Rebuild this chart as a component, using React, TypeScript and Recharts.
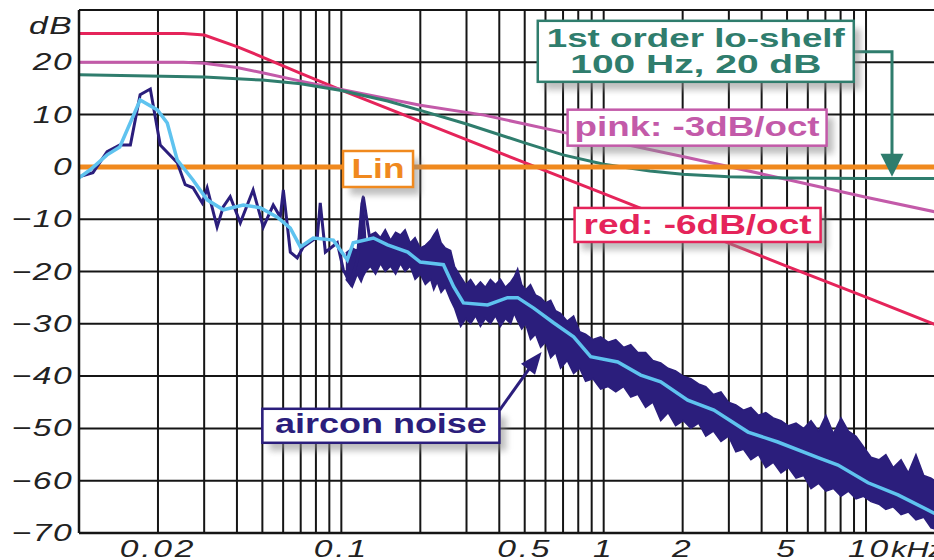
import React from "react";
import {
  ComposedChart,
  Line,
  Area,
  XAxis,
  YAxis,
  CartesianGrid,
  ReferenceDot,
} from "recharts";

// axis ticks and grid (kHz / dB)
const freqTicks = [0.02, 0.1, 0.5, 1, 2, 5, 10];
const gridFreqs = [
  0.02, 0.03, 0.04, 0.05, 0.06, 0.07, 0.08, 0.09, 0.1, 0.2, 0.3, 0.4, 0.5,
  0.6, 0.7, 0.8, 0.9, 1, 2, 3, 4, 5, 6, 7, 8, 9, 10,
];
const dbTicks = [-70, -60, -50, -40, -30, -20, -10, 0, 10, 20, 27];
const dbGrid = [-60, -50, -40, -30, -20, -10, 0, 10, 20, 30];

// weighting curves
const redFreq = [0.01, 0.025, 0.03, 0.04, 0.05, 0.07, 0.1, 0.2, 0.5, 1, 2, 5, 10, 20];
const redDb = [25.5, 25.5, 25.2, 23.0, 21.0, 17.9, 14.7, 8.7, 0.8, -5.1, -11.1, -19.0, -24.9, -30.9];

const pinkFreq = [0.01, 0.025, 0.03, 0.04, 0.05, 0.07, 0.1, 0.2, 0.35, 0.5, 0.7, 1, 2, 5, 10, 20];
const pinkDb = [20, 20, 19.8, 19.0, 18.0, 16.4, 14.8, 11.8, 9.9, 8.2, 6.6, 5.2, 2.0, -2.4, -5.8, -9.0];

const shelfFreq = [0.01, 0.03, 0.05, 0.07, 0.1, 0.15, 0.2, 0.3, 0.5, 0.7, 1, 1.5, 2, 3, 5, 10, 20];
const shelfDb = [17.6, 17.2, 16.6, 15.9, 14.6, 12.6, 10.8, 8.2, 4.6, 2.3, 0.5, -0.8, -1.4, -1.9, -2.1, -2.2, -2.2];

const linFreq = [0.01, 20];
const linDb = [0, 0];

// aircon noise, low range (single trace)
const noiseFreq = [
  0.01, 0.0113, 0.0128, 0.0143, 0.0157, 0.0171, 0.0187, 0.0204, 0.0237, 0.0254,
  0.0272, 0.0295, 0.0308, 0.0336, 0.0355, 0.0377, 0.0412, 0.0461, 0.0504, 0.055,
  0.0585, 0.0601, 0.0639, 0.0679, 0.0716, 0.081, 0.0831, 0.0869, 0.0965, 0.1018,
  0.1082, 0.1151, 0.1213, 0.129,
];
const noiseDb = [
  -1.9, -1.1, 2.9, 4.2, 4.2, 13.8, 14.9, 4.2, 0.8, -3.4,
  -4.0, -6.9, -4.0, -11.5, -7.6, -5.7, -10.7, -4.4, -11.5, -7.3,
  -9.6, -4.4, -16.3, -17.4, -15.3, -13.4, -6.9, -16.3, -14.5, -19.7,
  -22.2, -17.8, -5.7, -14.5,
];

// aircon noise, dense range (min / max envelope)
const bandFreq = [
  0.104, 0.11, 0.115, 0.119, 0.121, 0.124, 0.129, 0.135, 0.141, 0.147,
  0.154, 0.161, 0.168, 0.175, 0.183, 0.191, 0.2, 0.209, 0.219, 0.225,
  0.232, 0.24, 0.249, 0.261, 0.27, 0.285, 0.298, 0.311, 0.325, 0.339,
  0.354, 0.37, 0.387, 0.404, 0.422, 0.442, 0.456, 0.47, 0.487, 0.504,
  0.526, 0.55, 0.575, 0.6, 0.628, 0.656, 0.685, 0.726, 0.768, 0.81,
  0.853, 0.91, 0.974, 1.04, 1.112, 1.19, 1.268, 1.35, 1.445, 1.54,
  1.65, 1.76, 1.88, 2.01, 2.15, 2.3, 2.45, 2.62, 2.8, 2.99,
  3.19, 3.41, 3.64, 3.89, 4.15, 4.43, 4.74, 5.06, 5.41, 5.78,
  6.17, 6.59, 7.03, 7.51, 8.03, 8.57, 9.16, 9.78, 10.45, 11.2,
  11.9, 12.7, 13.6, 14.5, 15.5, 16.6, 17.7, 18.9, 20.2,
];
const bandLow = [
  -21.5, -23.0, -20.5, -22.0, -21.0, -20.0, -19.0, -20.5, -18.5, -20.0,
  -19.0, -20.5, -18.5, -20.0, -19.0, -21.5, -20.5, -22.5, -21.5, -23.5,
  -22.0, -24.0, -23.0, -25.5, -27.0, -30.5, -29.0, -30.0, -28.5, -30.5,
  -29.0, -30.0, -28.5, -30.5, -29.0, -30.0, -28.0, -29.5, -31.0, -30.0,
  -33.0, -32.0, -34.5, -33.5, -36.5, -35.5, -38.5, -37.0, -39.5, -38.5,
  -41.0, -40.5, -42.5, -42.0, -43.0, -42.0, -44.0, -43.5, -46.0, -45.0,
  -48.5, -47.0, -49.5, -48.5, -50.0, -49.0, -51.5, -50.5, -52.5, -51.5,
  -54.5, -54.0, -56.0, -55.0, -57.5, -56.5, -58.5, -57.5, -59.5, -59.0,
  -61.5, -60.5, -62.0, -61.5, -63.0, -62.0, -63.5, -63.0, -64.0, -64.5,
  -65.5, -65.0, -66.5, -66.0, -67.5, -67.0, -69.0, -69.5, -70.0,
];
const bandHigh = [
  -16.5, -15.5, -16.0, -7.0, -5.5, -14.5, -13.0, -12.5, -13.5, -12.0,
  -14.0, -12.5, -13.0, -12.0, -14.5, -13.5, -15.5, -15.0, -14.0, -13.0,
  -12.0, -14.5, -15.5, -16.0, -19.0, -21.0, -22.5, -21.5, -23.0, -22.0,
  -23.0, -21.5, -22.5, -21.5, -23.0, -22.0, -21.0, -19.5, -22.5, -23.5,
  -22.5, -24.5, -25.0, -26.0, -25.5, -27.5, -28.0, -29.5, -28.5, -31.5,
  -32.0, -33.0, -32.5, -33.5, -33.0, -34.5, -34.0, -35.5, -35.5, -37.0,
  -37.5, -38.5, -39.0, -40.0, -40.5, -41.5, -42.0, -43.5, -43.0, -45.0,
  -45.5, -46.5, -46.0, -47.5, -47.0, -48.0, -48.5, -49.5, -49.0, -50.0,
  -48.5, -50.5, -47.5, -51.0, -48.0, -50.5, -51.5, -53.5, -55.5, -56.0,
  -55.0, -57.5, -56.0, -58.5, -55.0, -59.0, -59.5, -60.5, -61.0,
];

// smoothed aircon noise
const smoothFreq = [
  0.01, 0.011, 0.0128, 0.0143, 0.0171, 0.0199, 0.0217, 0.0237, 0.0272, 0.0308,
  0.0355, 0.0423, 0.0491, 0.057, 0.0639, 0.0698, 0.0782, 0.0932, 0.1054, 0.111,
  0.1325, 0.15, 0.179, 0.2, 0.245, 0.268, 0.292, 0.361, 0.43, 0.47,
  0.541, 0.644, 0.768, 0.892, 1.131, 1.384, 1.65, 2.09, 2.63, 3.55,
  4.61, 6.56, 7.82, 10.18, 13.24, 18.17, 20,
];
const smoothDb = [
  -2.1, -0.6, 2.3, 3.8, 12.8, 10.9, 8.4, 1.3, -2.5, -6.3,
  -8.2, -7.3, -7.8, -9.6, -11.7, -15.3, -13.6, -14.0, -17.8, -14.5,
  -13.6, -14.9, -16.3, -18.2, -18.7, -22.9, -26.0, -26.4, -25.0, -25.0,
  -27.0, -29.8, -32.5, -36.3, -37.3, -39.8, -41.1, -44.6, -46.5, -50.7,
  -52.6, -55.6, -57.0, -60.4, -62.7, -66.2, -67.2,
];

const pts = (fs: number[], vs: number[]) => fs.map((f, i) => ({ f, v: vs[i] }));
const bandPts = bandFreq.map((f, i) => ({ f, band: [bandLow[i], bandHigh[i]] }));

const NAVY = "#2b1e7c";
const FONT = "'Liberation Sans', Arial, sans-serif";

const fmt = (v: number) => (v < 0 ? "\u2212" + Math.abs(v) : String(v));

const YTick = ({ x, y, payload }: any) => (
  <g transform={`translate(${x - 6},${y + 8}) scale(1.4,1)`}>
    <text textAnchor="end" fontStyle="italic" fontSize={24} letterSpacing={1} fill="#222" fontFamily={FONT}>
      {payload.value === 27 ? "dB" : fmt(payload.value)}
    </text>
  </g>
);

const XTick = ({ x, y, payload }: any) => {
  const last = payload.value === 10;
  return (
    <g transform={`translate(${last ? x - 18 : x},${y + 24}) scale(1.4,1)`}>
      <text textAnchor={last ? "start" : "middle"} fontStyle="italic" fontSize={24} letterSpacing={2} fill="#222" fontFamily={FONT}>
        {last ? (
          <>
            10<tspan fontSize={22} letterSpacing={0}>kHz</tspan>
          </>
        ) : (
          String(payload.value)
        )}
      </text>
    </g>
  );
};

const callout = (w: number, h: number, color: string, lines: string[], base: number[], widths: number[], size: number, id: string) =>
  (props: any) => {
    const { cx, cy } = props;
    return (
      <g>
        <defs>
          <filter id={id} x="-20%" y="-40%" width="140%" height="180%">
            <feGaussianBlur stdDeviation="3" />
          </filter>
        </defs>
        <rect x={cx - w / 2 + 7} y={cy - h / 2 + 8} width={w} height={h} fill="#8a8a8a" opacity={0.55} filter={`url(#${id})`} />
        <rect x={cx - w / 2} y={cy - h / 2} width={w} height={h} fill="#fff" stroke={color} strokeWidth={2.5} />
        {lines.map((t, i) => (
          <text key={i} x={cx} y={cy + base[i]} textAnchor="middle" fill={color} fontSize={size} fontWeight="bold"
            fontFamily={FONT} textLength={widths[i]} lengthAdjust="spacingAndGlyphs">
            {t}
          </text>
        ))}
      </g>
    );
  };

const shelfArrow = (props: any) => {
  const { cx, cy } = props;
  return (
    <g>
      <polyline points={`${cx - 38},${cy - 125} ${cx},${cy - 125} ${cx},${cy - 20}`} fill="none" stroke="#2f7d6d" strokeWidth={3} />
      <polygon points={`${cx - 11.5},${cy - 23} ${cx + 11.5},${cy - 23} ${cx},${cy}`} fill="#2f7d6d" />
    </g>
  );
};

const noiseArrow = (props: any) => {
  const { cx, cy } = props;
  return (
    <g>
      <line x1={cx - 42} y1={cy + 58} x2={cx - 12} y2={cy + 16} stroke={NAVY} strokeWidth={3} />
      <polygon points={`${cx},${cy} ${cx - 6.6},${cy + 22.8} ${cx - 20.6},${cy + 11.6}`} fill={NAVY} />
    </g>
  );
};

export default function App() {
  return (
    <div style={{ position: "absolute", left: 0, top: 0, background: "#fff" }}>
      <ComposedChart width={934} height={560} margin={{ top: 10, right: -11, bottom: 0, left: 0 }}>
        <CartesianGrid
          stroke="#151515"
          strokeWidth={2}
          verticalValues={gridFreqs}
          horizontalValues={dbGrid}
        />
        <XAxis
          type="number"
          dataKey="f"
          scale="log"
          domain={[0.01, 20]}
          allowDataOverflow
          ticks={freqTicks}
          tick={<XTick />}
          tickLine={false}
          tickSize={0}
          tickMargin={0}
          height={27}
          axisLine={{ stroke: "#151515", strokeWidth: 2.5 }}
          interval={0}
        />
        <YAxis
          type="number"
          domain={[-70, 30]}
          allowDataOverflow
          ticks={dbTicks}
          tick={<YTick />}
          tickLine={false}
          tickSize={0}
          tickMargin={0}
          width={79}
          axisLine={{ stroke: "#151515", strokeWidth: 2.5 }}
          interval={0}
        />
        <Area data={bandPts} dataKey="band" type="linear" fill={NAVY} fillOpacity={1} stroke={NAVY} strokeWidth={1.5} isAnimationActive={false} />
        <Line data={pts(redFreq, redDb)} dataKey="v" stroke="#e5245a" strokeWidth={3} dot={false} activeDot={false} isAnimationActive={false} />
        <Line data={pts(pinkFreq, pinkDb)} dataKey="v" stroke="#c35aa9" strokeWidth={3} dot={false} activeDot={false} isAnimationActive={false} />
        <Line data={pts(shelfFreq, shelfDb)} dataKey="v" stroke="#2f7d6d" strokeWidth={3} dot={false} activeDot={false} isAnimationActive={false} />
        <Line data={pts(linFreq, linDb)} dataKey="v" stroke="#f0891e" strokeWidth={5} dot={false} activeDot={false} isAnimationActive={false} />
        <Line data={pts(noiseFreq, noiseDb)} dataKey="v" stroke={NAVY} strokeWidth={3} dot={false} activeDot={false} isAnimationActive={false} />
        <Line data={pts(smoothFreq, smoothDb)} dataKey="v" stroke="#5fc3ef" strokeWidth={3.5} dot={false} activeDot={false} isAnimationActive={false} />

        <ReferenceDot x={12.56} y={-1.9} ifOverflow="visible" zIndex={3000} shape={shelfArrow} />
        <ReferenceDot x={0.58} y={-35.4} ifOverflow="visible" zIndex={3000} shape={noiseArrow} />
        <ReferenceDot x={0.138} y={-0.4} ifOverflow="visible" zIndex={3000}
          shape={callout(70, 36, "#f0891e", ["Lin"], [9], [53], 27, "shLin")} />
        <ReferenceDot x={2.244} y={22.1} ifOverflow="visible" zIndex={3000}
          shape={callout(316, 61, "#2f7d6d", ["1st order lo-shelf", "100 Hz, 20 dB"], [-4.5, 21.5], [298, 251], 25, "shShelf")} />
        <ReferenceDot x={2.27} y={7.5} ifOverflow="visible" zIndex={3000}
          shape={callout(259, 36, "#c35aa9", ["pink: -3dB/oct"], [8], [245], 27, "shPink")} />
        <ReferenceDot x={2.28} y={-11.1} ifOverflow="visible" zIndex={3000}
          shape={callout(246, 34, "#e5245a", ["red: -6dB/oct"], [9.5], [228], 27, "shRed")} />
        <ReferenceDot x={0.1415} y={-49.5} ifOverflow="visible" zIndex={3000}
          shape={callout(237, 34, NAVY, ["aircon noise"], [7.5], [212], 27, "shNoise")} />
      </ComposedChart>
    </div>
  );
}
